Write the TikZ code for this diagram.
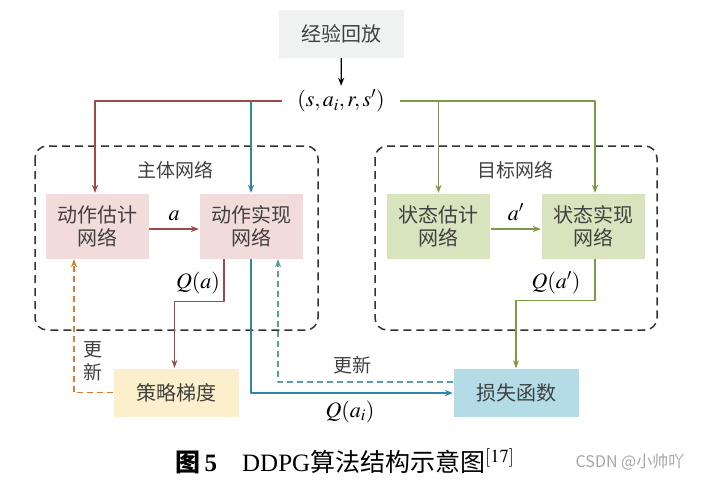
\documentclass[tikz,border=0pt]{standalone}
\usepackage{mathptmx}
\usepackage{fontspec}
\setmainfont{Liberation Serif}
\newfontfamily\cjk{Noto Sans CJK SC}
\usetikzlibrary{arrows.meta}
\definecolor{txtgray}{RGB}{64,64,64}
\definecolor{replaybg}{RGB}{240,242,242}
\definecolor{pinkbg}{RGB}{242,220,219}
\definecolor{greenbg}{RGB}{216,228,190}
\definecolor{yellowbg}{RGB}{252,240,204}
\definecolor{bluebg}{RGB}{180,220,230}
\definecolor{redline}{RGB}{155,74,70}
\definecolor{blueline}{RGB}{46,135,163}
\definecolor{greenline}{RGB}{122,154,69}
\definecolor{orangeline}{RGB}{224,122,46}
\definecolor{tealline}{RGB}{91,158,166}
\definecolor{framegray}{RGB}{51,51,51}
\begin{document}
\begin{tikzpicture}[x=1pt,y=-1pt,line join=round,line cap=butt,>={Stealth[length=8pt,width=6pt]},line width=1.3pt,
	netbox/.style={inner sep=0pt,minimum width=103pt,minimum height=65pt,align=center,text=txtgray,font=\cjk\fontsize{20}{23}\selectfont},
	smallbox/.style={inner sep=0pt,minimum width=125pt,minimum height=48pt,text=txtgray,font=\cjk\fontsize{20}{23}\selectfont},
	cjklabel/.style={text=txtgray,align=center,font=\cjk\fontsize{19}{23}\selectfont},
	mathlabel/.style={font=\fontsize{22}{22}\selectfont},
	netframe/.style={draw=framegray,line width=1.5pt,dash pattern=on 8pt off 5pt,rounded corners=12pt},
	updateline/.style={->,dash pattern=on 6pt off 4pt}]
					\useasboundingbox (0,0) rectangle (715,483);
					\draw[netframe] (35,146) rectangle (318,330);
					\draw[netframe] (375,146) rectangle (657,330);
					\node[smallbox,fill=replaybg] (replay) at (341.5,33.5) {经验回放};
					\node[mathlabel,inner xsep=15pt] (tuple) at (341,101) {$(s,a_i,r,s')$};
					\node[cjklabel] (mainlbl) at (175,170) {主体网络};
					\node[cjklabel] (targetlbl) at (515,170) {目标网络};
					\node[netbox,fill=pinkbg] (actest) at (97,226) {动作估计\\网络};
					\node[netbox,fill=pinkbg] (actreal) at (251,226) {动作实现\\网络};
					\node[netbox,fill=greenbg] (stateest) at (438.5,226) {状态估计\\网络};
					\node[netbox,fill=greenbg] (statereal) at (593,226) {状态实现\\网络};
					\node[smallbox,fill=yellowbg] (grad) at (176.5,392.5) {策略梯度};
					\node[smallbox,fill=bluebg] (loss) at (516,393) {损失函数};
					\draw[->] (replay) -- (tuple);
					\draw[->,redline] (tuple.west) -| ([xshift=-2pt]actest.north);
					\draw[->,blueline] (actreal.north |- tuple.west) -- (actreal.north);
					\draw[->,greenline] (tuple.east) -| ([xshift=2pt]statereal.north);
					\draw[->,greenline] (stateest.north |- tuple.east) -- (stateest.north);
					\draw[->,redline] ([yshift=-3pt]actest.east) -- node[mathlabel,above=4pt,text=black] {$a$} ([yshift=-3pt]actreal.west);
					\draw[->,greenline] ([yshift=-3pt]stateest.east) -- node[mathlabel,above=4pt,text=black] {$a'$} ([yshift=-3pt]statereal.west);
					\draw[->,redline] ([xshift=-27pt]actreal.south) -- ++(0,42) -| ([xshift=-2pt]grad.north);
					\node[mathlabel] (qa) at (198,283) {$Q(a)$};
					\draw[->,greenline] ([xshift=2pt]statereal.south) -- ++(0,41) -| (loss.north);
					\node[mathlabel] (qap) at (556,283) {$Q(a')$};
					\draw[->,blueline] (actreal.south) |- (loss.west);
					\node[mathlabel] (qai) at (350,412) {$Q(a_i)$};
					\draw[updateline,tealline] ([yshift=11pt]loss.west) -| ([xshift=27pt]actreal.south);
					\node[cjklabel] (upd1) at (352,365) {更新};
					\draw[updateline,orangeline] (grad.west) -| ([xshift=-23pt]actest.south);
					\node[cjklabel] (upd2) at (93,361.5) {更\\新};
					\node[font=\fontsize{25}{25}\selectfont] (caption) at (345,461) {{\cjk\bfseries 图}\,\textbf{5}\quad DDPG{\cjk 算法结构示意图}$^{[17]}$};
					\node[text=black!35,font=\cjk\fontsize{16}{16}\selectfont] (mark) at (630,462) {CSDN @小帅吖};
				\end{tikzpicture}
\end{document}
